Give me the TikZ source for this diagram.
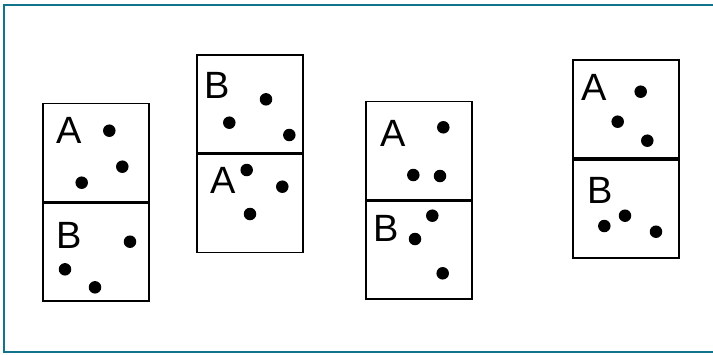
\documentclass[tikz,border=0pt]{standalone}
\usepackage{fontspec}
\setmainfont{Liberation Sans}
\usetikzlibrary{positioning}

\begin{document}
\begin{tikzpicture}[
    x=1pt, y=-1pt,
    % Define cell, dot and letter styles
    cell/.style={draw, line width=1.6pt, minimum width=106pt, minimum height=98pt, inner sep=0pt},
    dot/.style={circle, fill=black, inner sep=0pt, minimum size=12.5pt},
    letter/.style={inner sep=0pt, font=\fontsize{38}{38}\selectfont}
]

% Canvas and frame
\useasboundingbox (0,0) rectangle (713,354);
\definecolor{frameteal}{HTML}{11748A}
\draw[frameteal, line width=2pt] (730,4.5) -- (4,4.5) -- (4,351.5) -- (730,351.5);

% Domino 1
\node[cell, anchor=north west] (d1a) at (42.3,102.7) {};
\node[cell, below=0pt of d1a] (d1b) {};
\node[letter] (d1A) at (69,130.7) {A};
\node[letter] (d1B) at (69.3,235) {B};
\node[dot] (d1p1) at (109.3,130.7) {};
\node[dot] (d1p2) at (122.3,166.7) {};
\node[dot] (d1p3) at (81.7,182.7) {};
\node[dot] (d1q1) at (130,241.7) {};
\node[dot] (d1q2) at (65,269.3) {};
\node[dot] (d1q3) at (95,287.3) {};

% Domino 2
\node[cell, anchor=north west] (d2a) at (196.3,54) {};
\node[cell, below=0pt of d2a] (d2b) {};
\node[letter] (d2B) at (216.7,85) {B};
\node[letter] (d2A) at (222.7,180) {A};
\node[dot] (d2p1) at (266,99.3) {};
\node[dot] (d2p2) at (229.3,122.7) {};
\node[dot] (d2p3) at (289.3,135) {};
\node[dot] (d2q1) at (246.7,170) {};
\node[dot] (d2q2) at (282.3,186.7) {};
\node[dot] (d2q3) at (250,214) {};

% Domino 3
\node[cell, anchor=north west] (d3a) at (365,100.7) {};
\node[cell, below=0pt of d3a] (d3b) {};
\node[letter] (d3A) at (393.3,133.3) {A};
\node[letter] (d3B) at (385.7,228.3) {B};
\node[dot] (d3p1) at (443.3,127.3) {};
\node[dot] (d3p2) at (413.3,175) {};
\node[dot] (d3p3) at (440,176) {};
\node[dot] (d3q1) at (432.3,215.7) {};
\node[dot] (d3q2) at (415,239) {};
\node[dot] (d3q3) at (442.7,273.3) {};

% Domino 4
\node[cell, anchor=north west] (d4a) at (572.3,59.3) {};
\node[cell, below=0pt of d4a] (d4b) {};
\node[letter] (d4A) at (594.3,87.3) {A};
\node[letter] (d4B) at (600,190) {B};
\node[dot] (d4p1) at (640.7,91.7) {};
\node[dot] (d4p2) at (617.7,121.7) {};
\node[dot] (d4p3) at (647.3,140.7) {};
\node[dot] (d4q1) at (604.3,226) {};
\node[dot] (d4q2) at (625,215.7) {};
\node[dot] (d4q3) at (656,231.7) {};

\end{tikzpicture}
\end{document}
